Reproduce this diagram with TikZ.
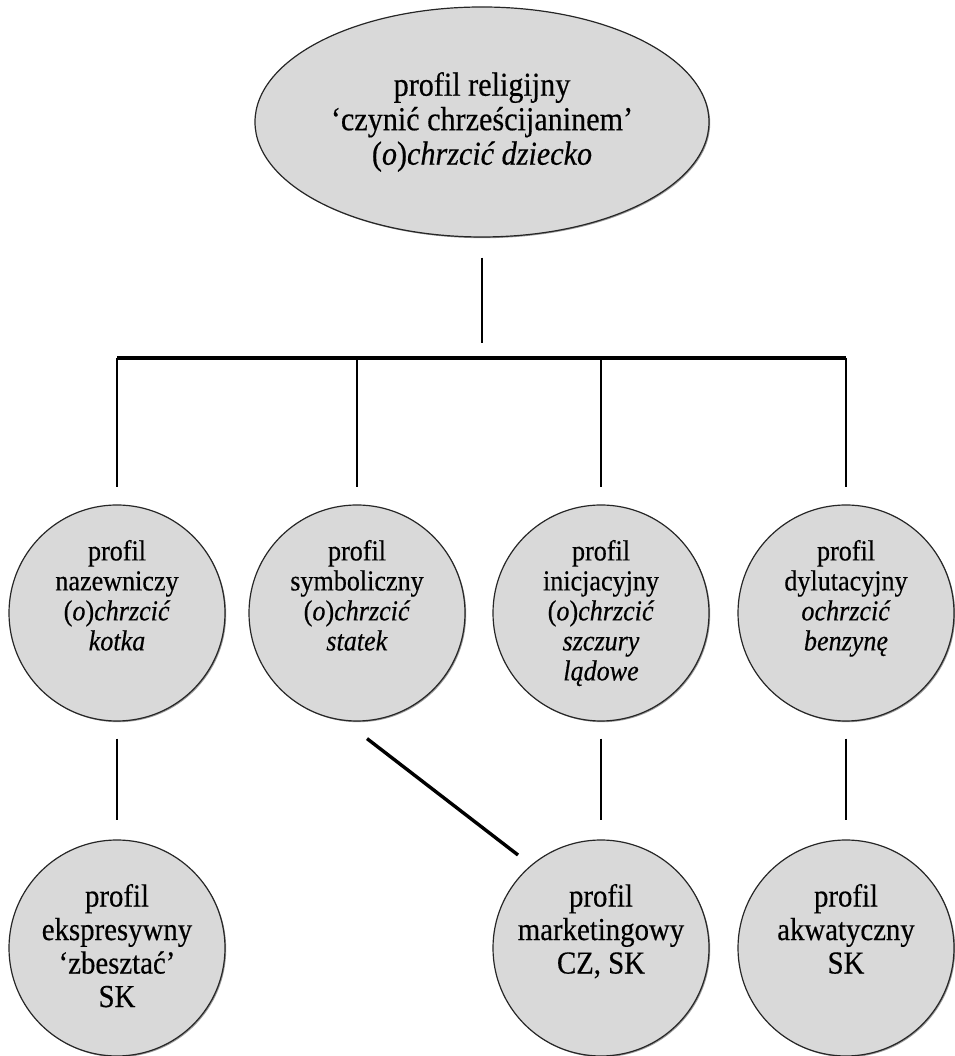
\documentclass[tikz,border=0pt]{standalone}
\usepackage{fontspec}
\setmainfont{Liberation Serif}[FakeStretch=0.9, FakeBold=0.4]
\usetikzlibrary{shapes.geometric, shadows, calc}
\definecolor{profgray}{HTML}{D9D9D9}
\newcommand{\lvtwo}[1]{\parbox[c][146pt][t]{150pt}{\centering\fontsize{29}{30}\selectfont #1}}
\newcommand{\lvthree}[1]{\parbox[c][128pt][t]{172pt}{\centering\fontsize{32}{33.5}\selectfont #1}}

\begin{document}
\begin{tikzpicture}[x=1pt, y=1pt,
  prof/.style={draw=black!85, line width=1.2pt, fill=profgray, inner sep=0pt,
    drop shadow={shadow xshift=1.2pt, shadow yshift=-1.2pt, opacity=0.4, fill=black}},
  sub/.style={prof, circle, minimum size=216pt},
  conn/.style={line width=2.8pt},
  rail/.style={line width=3.6pt}]
\useasboundingbox (0,0) rectangle (954,1056);

% Main profile
\node[prof, ellipse, minimum width=454pt, minimum height=230pt, align=center,
  font=\fontsize{33.5}{34.5}\selectfont] (rel) at (482,934)
  {profil religijny\\‘czynić chrześcijaninem’\\(\textit{o})\textit{chrzcić dziecko}};

% Second level
\node[sub] (naz) at (117,443) {\lvtwo{profil\\nazewniczy\\(\textit{o})\textit{chrzcić}\\\textit{kotka}}};
\node[sub] (sym) at (357,443) {\lvtwo{profil\\symboliczny\\(\textit{o})\textit{chrzcić}\\\textit{statek}}};
\node[sub] (ini) at (601,443) {\lvtwo{profil\\inicjacyjny\\(\textit{o})\textit{chrzcić}\\\textit{szczury}\\\textit{lądowe}}};
\node[sub] (dyl) at (846,443) {\lvtwo{profil\\dylutacyjny\\\textit{ochrzcić}\\\textit{benzynę}}};

% Third level
\node[sub] (eks) at (117,108) {\lvthree{profil\\ekspresywny\\‘zbesztać’\\SK}};
\node[sub] (mkt) at (601,108) {\lvthree{profil\\marketingowy\\CZ, SK}};
\node[sub] (akw) at (846,108) {\lvthree{profil\\akwatyczny\\SK}};

% Tree lines
\coordinate (fork) at (482,698);
\draw[conn] ([yshift=-20pt]rel.south) -- ([yshift=15pt]fork);
\draw[rail] (naz.north |- fork) -- (dyl.north |- fork);
\foreach \n in {naz, sym, ini, dyl}
  \draw[conn] (\n.north |- fork) -- ([yshift=17pt]\n.north);

% Lower links
\draw[conn] ([yshift=-17pt]naz.south) -- ([yshift=19pt]eks.north);
\draw[conn] ([yshift=-17pt]ini.south) -- ([yshift=19pt]mkt.north);
\draw[conn] ([yshift=-17pt]dyl.south) -- ([yshift=19pt]akw.north);
\draw[line width=3.4pt] ($(sym.south)+(10,-17)$) -- ($(mkt.center)+(-83,93)$);
\end{tikzpicture}
\end{document}
